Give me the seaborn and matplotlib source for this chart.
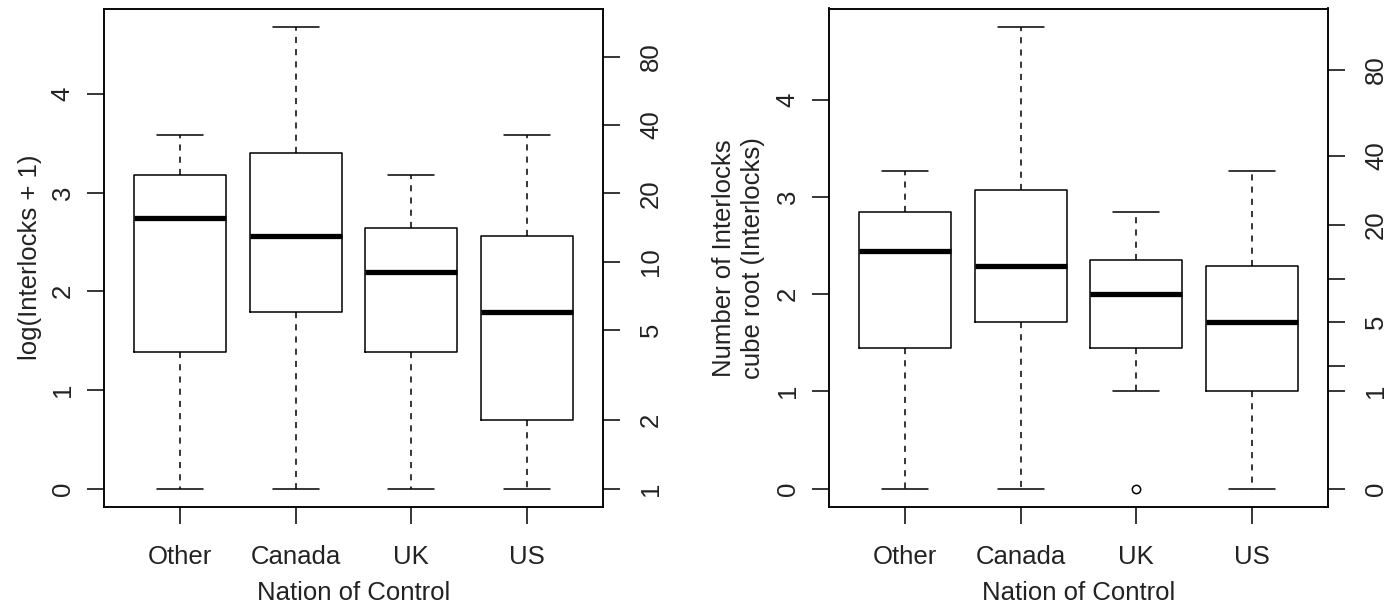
import numpy as np
import pandas as pd
import matplotlib
matplotlib.use("Agg")
import matplotlib.pyplot as plt
import seaborn as sns

# Interlocking directorates by nation of control
nations = ["Other", "Canada", "UK", "US"]
interlocks_other = [0, 3, 14.5, 23, 35]
interlocks_canada = [0, 5, 12, 29, 107]
interlocks_uk = [0, 1, 3, 3, 8, 13, 13, 23, 23]
interlocks_us = [0, 1, 5, 12, 35]

# Counts shown on the secondary (untransformed) axes
log_axis_counts = [1, 2, 5, 10, 20, 40, 80]
log_axis_labels = ["1", "2", "5", "10", "20", "40", "80"]
cube_axis_counts = [0, 1, 2, 5, 10, 20, 40, 80]
cube_axis_labels = ["0", "1", "", "5", "", "20", "40", "80"]

groups = [interlocks_other, interlocks_canada, interlocks_uk, interlocks_us]
df = pd.DataFrame({
    "nation": np.repeat(nations, [len(g) for g in groups]),
    "interlocks": np.concatenate(groups).astype(float),
})
df["log_interlocks"] = np.log(df["interlocks"] + 1)
df["cbrt_interlocks"] = np.cbrt(df["interlocks"])

sns.set_theme(style="white")
FS = 18.5
plt.rcParams.update({
    "font.family": ["Liberation Sans", "DejaVu Sans"],
    "font.size": FS,
    "axes.edgecolor": "black",
    "axes.linewidth": 1.1,
    "text.color": "#222222",
    "axes.labelcolor": "#222222",
    "xtick.color": "black",
    "ytick.color": "black",
    "xtick.labelcolor": "#222222",
    "ytick.labelcolor": "#222222",
})

W, H = 1386, 608
fig = plt.figure(figsize=(W / 100, H / 100), dpi=100)
fig.patch.set_facecolor("white")

def px_axes(x0, x1, y0, y1):
    return fig.add_axes([x0 / W, 1 - y1 / H, (x1 - x0) / W, (y1 - y0) / H])

ax1 = px_axes(104, 603, 8.5, 507)
ax2 = px_axes(829, 1328, 8.5, 507)

box_kw = dict(
    x="nation", order=nations, fill=False, color="black", linecolor="black",
    linewidth=1.1, width=0.8, whis=1.5,
    medianprops=dict(linewidth=3.8),
    whiskerprops=dict(linestyle=(0, (4, 4))),
    flierprops=dict(marker="o", markerfacecolor="none", markeredgecolor="black",
                    markersize=6, markeredgewidth=1.1),
)

def style_axes(ax, col, ylabel, sec_values, sec_labels, ylabel_x):
    sns.boxplot(data=df, y=col, ax=ax, **box_kw)
    vals = df[col]
    lo, hi = vals.min(), vals.max()
    pad = 0.04 * (hi - lo)
    ax.set_ylim(lo - pad, hi + pad)
    ax.set_xlim(-0.66, len(nations) - 1 + 0.66)
    for s in ax.spines.values():
        s.set_visible(True)
        s.set_color("black")
        s.set_linewidth(1.1)
    ax.set_yticks(range(0, 5))
    ax.set_yticklabels([str(v) for v in range(0, 5)])
    ax.tick_params(axis="both", direction="out", length=12, width=1.1,
                   labelsize=FS, left=True, bottom=True)
    ax.tick_params(axis="x", pad=15)
    ax.tick_params(axis="y", pad=9)
    for t in ax.get_yticklabels():
        t.set_rotation(90)
        t.set_va("center")
    ax.set_xlabel("Nation of Control", fontsize=FS)
    ax.xaxis.set_label_coords(0.5, -0.148)
    ax.set_ylabel(ylabel, fontsize=FS, linespacing=1.25)
    ax.yaxis.set_label_coords(ylabel_x, 0.5)

    sec = ax.twinx()
    sec.set_ylim(ax.get_ylim())
    sec.set_yticks(sec_values)
    sec.set_yticklabels(sec_labels)
    sec.tick_params(axis="y", direction="out", length=12, width=1.1,
                    labelsize=FS, right=True, pad=14)
    for t in sec.get_yticklabels():
        t.set_rotation(90)
        t.set_va("center")
    for s in sec.spines.values():
        s.set_color("black")
        s.set_linewidth(1.1)
    return sec

style_axes(ax1, "log_interlocks", "log(Interlocks + 1)",
           np.log(log_axis_counts), log_axis_labels, -0.124)
style_axes(ax2, "cbrt_interlocks", "Number of Interlocks\ncube root (Interlocks)",
           np.cbrt(cube_axis_counts), cube_axis_labels, -0.128)

fig.savefig("out.png", dpi=100, facecolor="white")
